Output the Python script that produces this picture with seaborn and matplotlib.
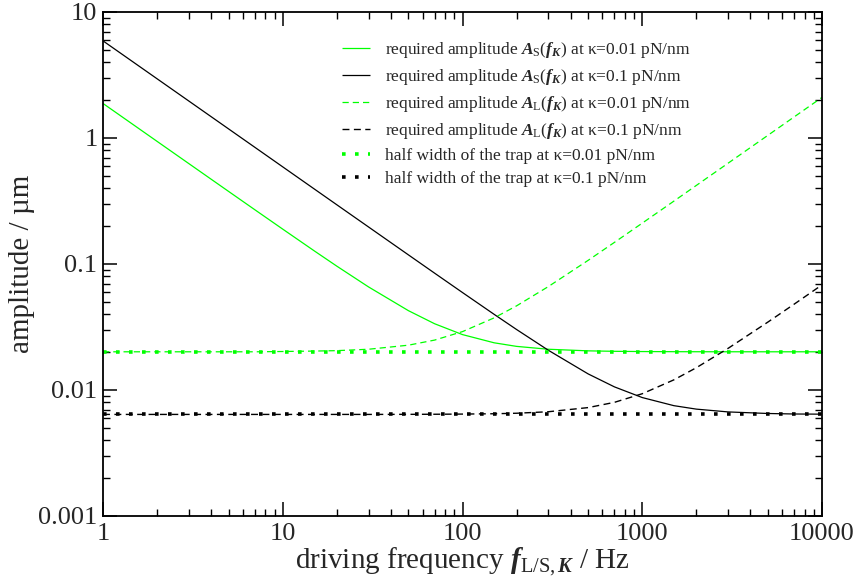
import numpy as np
import pandas as pd
import seaborn as sns
import matplotlib
matplotlib.use("Agg")
import matplotlib.pyplot as plt
from matplotlib import ticker

# driving frequency (Hz)
freq = [1, 2, 3, 5, 7, 10, 15, 20, 30, 50, 70, 100, 150, 200, 300, 500, 700,
        1000, 1500, 2000, 3000, 5000, 7000, 10000]

# required amplitude A_S (um), kappa = 0.01 pN/nm and 0.1 pN/nm
as_soft = [1.88, 0.94, 0.627, 0.3765, 0.2693, 0.1891, 0.1269, 0.0961, 0.0658,
           0.04264, 0.03355, 0.02752, 0.02369, 0.02219, 0.02106, 0.02045,
           0.02028, 0.02019, 0.02014, 0.02012, 0.02011, 0.0201, 0.0201, 0.0201]
as_stiff = [5.9, 2.95, 1.967, 1.18, 0.843, 0.59, 0.3933, 0.295, 0.1968, 0.1182,
            0.08453, 0.05935, 0.03985, 0.03019, 0.02069, 0.01342, 0.01059,
            0.00871, 0.00751, 0.00705, 0.0067, 0.00651, 0.00645, 0.00643]

# required amplitude A_L (um)
al_soft = [0.0201, 0.0201, 0.0201, 0.0201, 0.0201, 0.02021, 0.02037, 0.02053,
           0.02106, 0.02268, 0.0249, 0.02907, 0.03737, 0.04656, 0.06613,
           0.1069, 0.1484, 0.211, 0.3156, 0.4205, 0.6303, 1.0502, 1.4701, 2.1]
al_stiff = [0.0064, 0.0064, 0.0064, 0.0064, 0.0064, 0.0064, 0.0064, 0.0064,
            0.0064, 0.00641, 0.00642, 0.00644, 0.00648, 0.00654, 0.00672,
            0.00725, 0.00798, 0.00934, 0.01204, 0.01503, 0.02138, 0.0346,
            0.048, 0.0683]

# half width of the trap (um)
hw_freq = [1, 10000]
hw_soft = [0.0201, 0.0201]
hw_stiff = [0.0064, 0.0064]

sns.set_theme(style="ticks")
plt.rcParams["font.family"] = ["Liberation Serif", "DejaVu Serif"]
plt.rcParams["mathtext.fontset"] = "custom"
plt.rcParams["mathtext.rm"] = "Liberation Serif"
plt.rcParams["mathtext.it"] = "Liberation Serif:italic"
plt.rcParams["mathtext.bf"] = "Liberation Serif:bold:italic"

GREEN = "#00ff00"
BLACK = "#000000"

fig = plt.figure(figsize=(8.54, 5.84), dpi=100)
ax = fig.add_axes([103 / 854, 1 - 516 / 584, (822 - 103) / 854, (516 - 12) / 584])

solid = (0, ())
dashed = (0, (5, 3.2))
dotted = (0, (1, 2.6))

series = [
    (freq, as_soft, GREEN, solid, 0.9,
     r"required amplitude $\mathbf{A}_\mathrm{S}(\mathbf{f}_\mathbf{K})$ at κ=0.01 pN/nm"),
    (freq, as_stiff, BLACK, solid, 0.9,
     r"required amplitude $\mathbf{A}_\mathrm{S}(\mathbf{f}_\mathbf{K})$ at κ=0.1 pN/nm"),
    (freq, al_soft, GREEN, dashed, 0.9,
     r"required amplitude $\mathbf{A}_\mathrm{L}(\mathbf{f}_\mathbf{K})$ at κ=0.01 pN/nm"),
    (freq, al_stiff, BLACK, dashed, 1.0,
     r"required amplitude $\mathbf{A}_\mathrm{L}(\mathbf{f}_\mathbf{K})$ at κ=0.1 pN/nm"),
    (hw_freq, hw_soft, GREEN, dotted, 2.6,
     "half width of the trap at κ=0.01 pN/nm"),
    (hw_freq, hw_stiff, BLACK, dotted, 2.6,
     "half width of the trap at κ=0.1 pN/nm"),
]

for x, y, color, ls, lw, label in series:
    df = pd.DataFrame({"f": x, "A": y})
    sns.lineplot(data=df, x="f", y="A", ax=ax, color=color, linewidth=lw,
                 linestyle=ls, label=label, estimator=None, sort=False)

ax.set_xscale("log")
ax.set_yscale("log")
ax.set_xlim(1, 10000)
ax.set_ylim(0.001, 10)

fmt = ticker.FuncFormatter(lambda v, _: f"{v:g}")
ax.xaxis.set_major_formatter(fmt)
ax.yaxis.set_major_formatter(fmt)
ax.xaxis.set_major_locator(ticker.LogLocator(base=10, numticks=10))
ax.yaxis.set_major_locator(ticker.LogLocator(base=10, numticks=10))
ax.xaxis.set_minor_locator(ticker.LogLocator(base=10, subs=np.arange(2, 10), numticks=100))
ax.yaxis.set_minor_locator(ticker.LogLocator(base=10, subs=np.arange(2, 10), numticks=100))
ax.xaxis.set_minor_formatter(ticker.NullFormatter())
ax.yaxis.set_minor_formatter(ticker.NullFormatter())

ax.tick_params(which="both", direction="in", top=True, right=True,
               color="black", labelsize=19)
ax.tick_params(axis="x", which="both", pad=5)
ax.tick_params(axis="y", which="both", pad=4)
ax.tick_params(which="major", length=10, width=1.1)
ax.tick_params(which="minor", length=5, width=1.0)
for sp in ax.spines.values():
    sp.set_linewidth(1.3)
    sp.set_color("black")

ax.set_xlabel(r"driving frequency $\mathbf{f}_{\mathrm{L/S,}\mathbf{K}}$ / Hz",
              fontsize=21, labelpad=0)
ax.set_ylabel("amplitude / µm", fontsize=21, labelpad=2)

leg = ax.legend(loc="upper left", bbox_to_anchor=(0.3324, 0.944), frameon=False,
                fontsize=12.5, handlelength=1.6, handletextpad=0.86,
                labelspacing=0.4, borderpad=0.0, borderaxespad=0.0)

fig.savefig("out.png", dpi=100)
